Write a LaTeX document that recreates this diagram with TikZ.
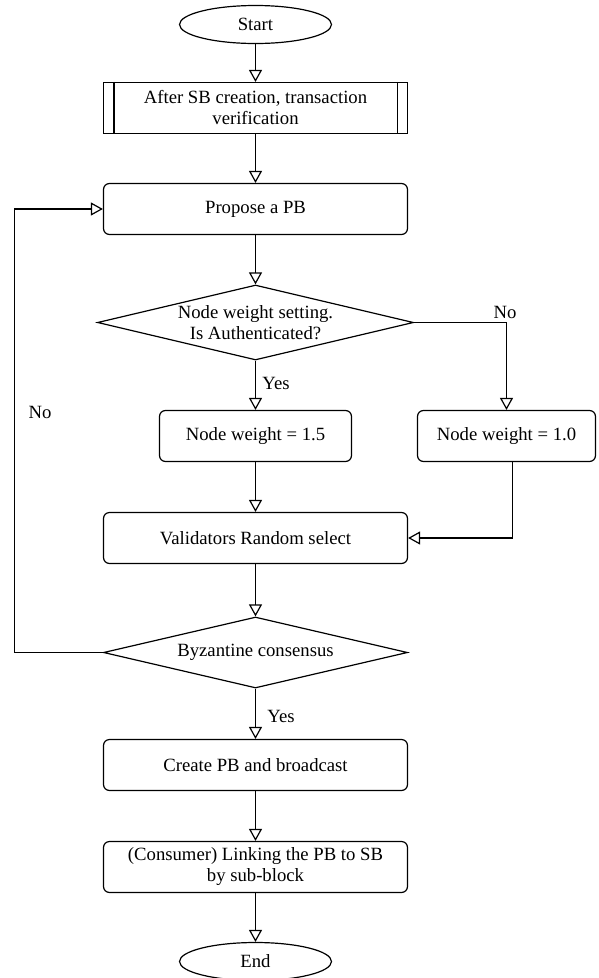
\documentclass[tikz,border=0pt]{standalone}
\usepackage{fontspec}
\setmainfont{Liberation Serif}
\usetikzlibrary{shapes.geometric,arrows.meta}
\begin{document}
\begin{tikzpicture}[x=1pt,y=-1pt,
  every node/.style={font=\fontsize{18.7}{21}\selectfont},
  base/.style={draw=black, line width=1.2pt, inner sep=0pt, align=center},
  procbox/.style={base, rectangle, rounded corners=6pt},
  termbox/.style={base, ellipse, minimum width=152pt, minimum height=38pt},
  subbox/.style={base, rectangle},
  decbox/.style={base, diamond},
  lbl/.style={inner sep=0pt, align=center},
  flow/.style={draw=black, line width=1.2pt, -{Triangle[open, length=12pt, width=13pt]}},
  plain/.style={draw=black, line width=1.2pt}
]
\useasboundingbox (0,0) rectangle (599,978);

% terminals, processes and decisions
\node[termbox] (start) at (255.5,24.5) {Start};
\node[subbox, minimum width=304pt, minimum height=51pt] (sb) at (255.5,108)
  {After SB creation, transaction\\verification};
\draw[plain] ([xshift=11pt]sb.north west) -- ([xshift=11pt]sb.south west);
\draw[plain] ([xshift=-11pt]sb.north east) -- ([xshift=-11pt]sb.south east);

\node[procbox, minimum width=304pt, minimum height=51pt] (propose) at (255.5,209) {Propose a PB};

\node[decbox, minimum width=316pt, minimum height=75pt] (d1) at (255.5,322.5) {};
\node[lbl] (d1t) at (d1.center) {Node weight setting.\\Is Authenticated?};

\node[procbox, minimum width=192pt, minimum height=51pt] (w15) at (255.5,436) {Node weight = 1.5};
\node[procbox, minimum width=178pt, minimum height=51pt] (w10) at (506.5,436) {Node weight = 1.0};

\node[procbox, minimum width=304pt, minimum height=51pt] (valid) at (255.5,538) {Validators Random select};

\node[decbox, minimum width=304pt, minimum height=71pt] (d2) at (255.5,652.5) {};
\node[lbl] (d2t) at (d2.center) {Byzantine consensus};

\node[procbox, minimum width=304pt, minimum height=51pt] (create) at (255.5,765) {Create PB and broadcast};
\node[procbox, minimum width=304pt, minimum height=51pt] (consumer) at (255.5,867)
  {(Consumer) Linking the PB to SB\\by sub-block};

\node[termbox] (end) at (255.5,961.5) {End};

% connectors
\draw[flow] (start) -- (sb);
\draw[flow] (sb) -- (propose);
\draw[flow] (propose) -- (d1.north);
\draw[flow] (d1.south) -- (w15.north);
\draw[flow] (d1.east) -| (w10.north);
\draw[flow] (w15) -- (valid);
\draw[flow] ([xshift=6pt]w10.south) |- (valid.east);
\draw[flow] (valid) -- (d2.north);
\coordinate (loop) at (14.5,652.5);
\draw[flow] (d2.west) -- (loop) |- (propose.west);
\draw[flow] (d2.south) -- (create.north);
\draw[flow] (create) -- (consumer);
\draw[flow] (consumer) -- (end);

% branch labels
\node[lbl] (yes1) at (276,383) {Yes};
\node[lbl] (no1) at (505,312) {No};
\node[lbl] (no2) at (40,412) {No};
\node[lbl] (yes2) at (281,716) {Yes};
\end{tikzpicture}
\end{document}
